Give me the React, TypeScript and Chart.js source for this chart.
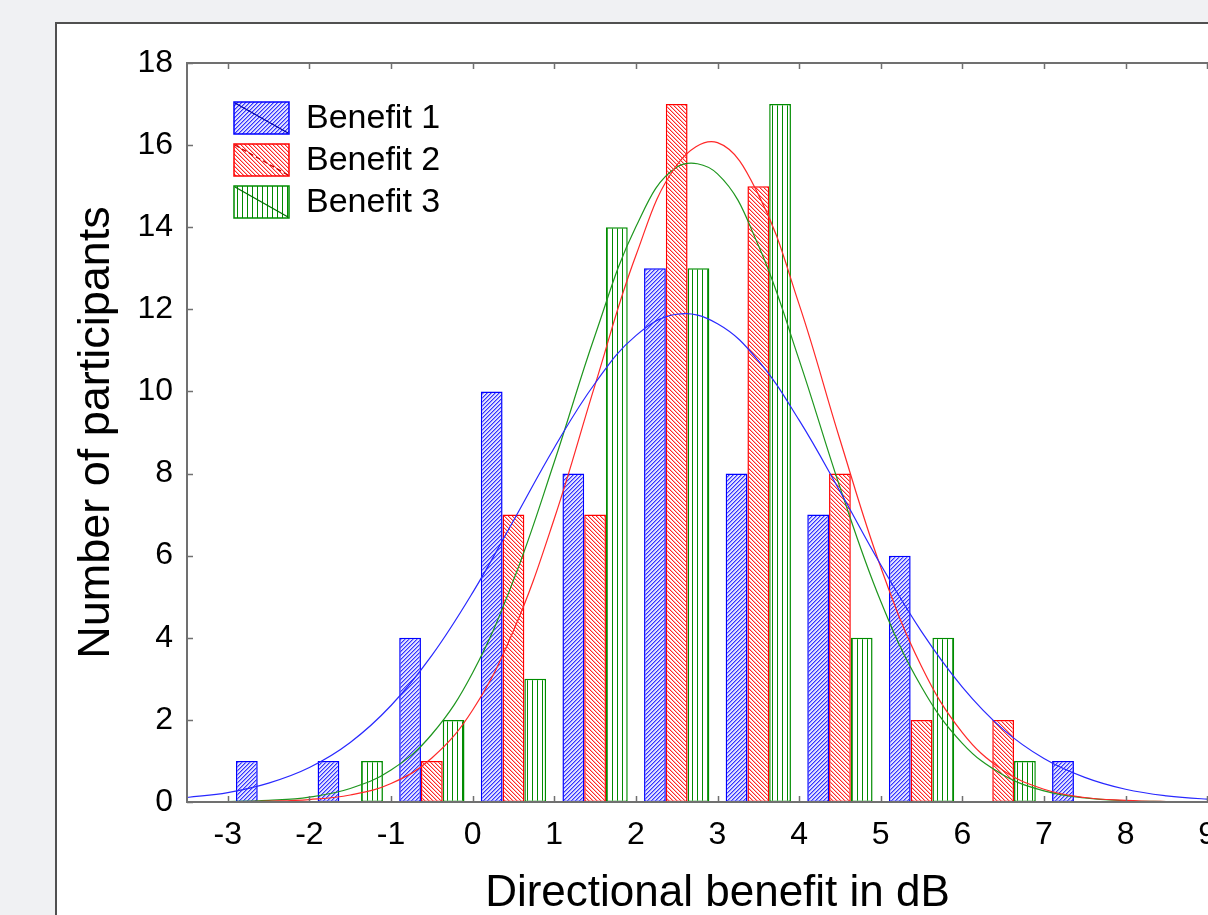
import React, { useEffect, useRef } from "react";
import { Chart, registerables } from "chart.js";

Chart.register(...registerables);

// ---------- data ----------
const binCenters = [-2.5, -1.5, -0.5, 0.5, 1.5, 2.5, 3.5, 4.5, 5.5, 6.5, 7.5];
const benefit1 = [1, 1, 4, 10, 8, 13, 8, 7, 6, 0, 1];
const benefit2 = [0, 0, 1, 7, 7, 17, 15, 8, 2, 2, 0];
const benefit3 = [0, 1, 2, 3, 14, 13, 17, 4, 4, 1, 0];

const xTickValues = [-3, -2, -1, 0, 1, 2, 3, 4, 5, 6, 7, 8, 9];

const curveX = [
  -3.5, -3, -2.5, -2, -1.5, -1, -0.5, 0, 0.5, 1, 1.5, 2, 2.5, 3, 3.5, 4, 4.5, 5,
  5.5, 6, 6.5, 7, 7.5, 8, 8.5, 9, 9.5,
];
const fit1 = [
  0.11, 0.23, 0.46, 0.84, 1.45, 2.35, 3.57, 5.1, 6.85, 8.63, 10.2, 11.36, 11.88,
  11.65, 10.75, 9.3, 7.57, 5.78, 4.15, 2.8, 1.77, 1.06, 0.6, 0.31, 0.15, 0.07,
  0.03,
];
const fit2 = [
  0, 0.005, 0.02, 0.06, 0.17, 0.45, 1.07, 2.24, 4.17, 6.9, 10.16, 13.31, 15.51,
  16.06, 14.8, 12.12, 8.83, 5.72, 3.3, 1.69, 0.77, 0.31, 0.11, 0.04, 0.01, 0, 0,
];
const fit3 = [
  0, 0.01, 0.04, 0.12, 0.33, 0.78, 1.65, 3.15, 5.4, 8.28, 11.37, 14.01, 15.46,
  15.3, 13.56, 10.77, 7.67, 4.89, 2.8, 1.43, 0.66, 0.27, 0.1, 0.03, 0.01, 0, 0,
];

const seriesNames = ["Benefit 1", "Benefit 2", "Benefit 3"];
const xAxisTitle = "Directional benefit in dB";
const yAxisTitle = "Number of participants";

const FONT = "'Liberation Sans', Arial, sans-serif";

const BLUE = "rgb(0,0,255)";
const RED = "rgb(255,0,0)";
const GREEN = "rgb(0,140,0)";

function makePattern(
  kind: "up" | "down" | "vert",
  color: string,
  soft: string,
  bg: string
): CanvasPattern {
  const size = kind === "vert" ? 5 : 4;
  const c = document.createElement("canvas");
  c.width = size;
  c.height = size;
  const g = c.getContext("2d")!;
  g.fillStyle = bg;
  g.fillRect(0, 0, size, size);
  if (kind === "vert") {
    g.fillStyle = color;
    g.fillRect(2, 0, 1, size);
  } else {
    for (let i = 0; i < size; i++) {
      const y = kind === "up" ? size - 1 - i : i;
      g.fillStyle = color;
      g.fillRect(i, y, 1, 1);
      g.fillStyle = soft;
      g.fillRect((i + 1) % size, y, 1, 1);
    }
  }
  return g.createPattern(c, "repeat")!;
}

export default function App() {
  const ref = useRef<HTMLCanvasElement>(null);

  useEffect(() => {
    const canvas = ref.current!;
    const p1 = makePattern("up", "rgb(50,50,255)", "rgb(150,150,255)", "rgb(225,225,255)");
    const p2 = makePattern("down", "rgb(255,40,40)", "rgb(255,175,175)", "#ffffff");
    const p3 = makePattern("vert", GREEN, GREEN, "#ffffff");
    const patterns = [p1, p2, p3];
    const colors = [BLUE, RED, GREEN];
    const diagColors = ["rgb(0,0,170)", "rgb(200,0,0)", "rgb(0,110,0)"];

    const framePlugin = {
      id: "frameAndLegend",
      afterDatasetsDraw(chart: any) {
        const { ctx, chartArea: a, scales } = chart;
        ctx.save();
        ctx.strokeStyle = "#707070";
        ctx.lineWidth = 2;
        ctx.strokeRect(a.left, a.top, a.right - a.left, a.bottom - a.top);
        ctx.lineWidth = 1.5;
        ctx.beginPath();
        scales.x.ticks.forEach((t: any) => {
          const px = Math.round(scales.x.getPixelForValue(t.value)) + 0.5;
          ctx.moveTo(px, a.bottom);
          ctx.lineTo(px, a.bottom - 6);
          ctx.moveTo(px, a.top);
          ctx.lineTo(px, a.top + 6);
        });
        scales.y.ticks.forEach((t: any) => {
          const py = Math.round(scales.y.getPixelForValue(t.value)) + 0.5;
          ctx.moveTo(a.left, py);
          ctx.lineTo(a.left + 6, py);
          ctx.moveTo(a.right, py);
          ctx.lineTo(a.right - 6, py);
        });
        ctx.stroke();

        // legend
        const bx = a.left + 47;
        const by0 = a.top + 39;
        const bw = 55;
        const bh = 32;
        const pitch = 42;
        for (let i = 0; i < seriesNames.length; i++) {
          const by = by0 + i * pitch;
          ctx.fillStyle = patterns[i];
          ctx.fillRect(bx, by, bw, bh);
          ctx.strokeStyle = colors[i];
          ctx.lineWidth = 1.5;
          ctx.setLineDash([]);
          ctx.strokeRect(bx, by, bw, bh);
          ctx.strokeStyle = diagColors[i];
          ctx.lineWidth = 1.3;
          ctx.setLineDash(i === 1 ? [5, 3] : []);
          ctx.beginPath();
          ctx.moveTo(bx + 1, by + 1);
          ctx.lineTo(bx + bw - 1, by + bh - 1);
          ctx.stroke();
          ctx.setLineDash([]);
          ctx.fillStyle = "#000";
          ctx.font = `34px ${FONT}`;
          ctx.textBaseline = "middle";
          ctx.textAlign = "left";
          ctx.fillText(seriesNames[i], bx + bw + 17, by + bh / 2 + 1);
        }
        ctx.restore();
      },
    };

    const barSets = [benefit1, benefit2, benefit3].map((vals, i) => ({
      type: "bar" as const,
      label: seriesNames[i],
      data: binCenters.map((x, k) => ({ x, y: vals[k] })),
      backgroundColor: patterns[i],
      borderColor: colors[i],
      borderWidth: 1.5,
      borderSkipped: false,
      categoryPercentage: 0.8,
      barPercentage: 1.0,
      order: 2,
    }));
    const lineColors = ["rgb(40,40,255)", "rgb(255,40,40)", "rgb(30,150,30)"];
    const lineSets = [fit1, fit2, fit3].map((vals, i) => ({
      type: "line" as const,
      label: seriesNames[i] + " fit",
      data: curveX.map((x, k) => ({ x, y: vals[k] })),
      borderColor: lineColors[i],
      borderWidth: 1.2,
      pointRadius: 0,
      tension: 0.4,
      fill: false,
      order: 1,
    }));

    const chart = new Chart(canvas, {
      type: "bar",
      data: { datasets: [...barSets, ...lineSets] as any },
      options: {
        responsive: false,
        animation: false,
        devicePixelRatio: 1,
        layout: { padding: { top: 63, right: 52, left: 0, bottom: 0 } },
        plugins: { legend: { display: false }, tooltip: { enabled: false } },
        scales: {
          x: {
            type: "linear",
            min: -3.5,
            max: 9.5,
            offset: false,
            grid: { display: false, drawTicks: false },
            border: { display: false },
            ticks: {
              autoSkip: false,
              maxRotation: 0,
              padding: 14,
              color: "#000",
              font: { family: FONT, size: 32 },
            },
            afterBuildTicks: (s: any) => {
              s.ticks = xTickValues.map((v) => ({ value: v }));
            },
            afterFit: (s: any) => {
              s.height = 138;
            },
            title: {
              display: true,
              text: xAxisTitle,
              color: "#000",
              font: { family: FONT, size: 44, lineHeight: 1.2 },
              padding: { top: 0, bottom: 19.5 },
            },
          },
          y: {
            type: "linear",
            min: 0,
            max: 18,
            grid: { display: false, drawTicks: false },
            border: { display: false },
            ticks: {
              stepSize: 2,
              padding: 14,
              color: "#000",
              font: { family: FONT, size: 32 },
            },
            afterFit: (s: any) => {
              s.width = 187;
            },
            title: {
              display: true,
              text: yAxisTitle,
              color: "#000",
              font: { family: FONT, size: 45, lineHeight: 1.2 },
              padding: { top: 69.5, bottom: 0 },
            },
          },
        },
      },
      plugins: [framePlugin],
    } as any);
    return () => chart.destroy();
  }, []);

  return (
    <div
      style={{
        position: "fixed",
        left: 0,
        top: 0,
        width: 1208,
        height: 915,
        overflow: "hidden",
        background: "#f0f1f3",
      }}
    >
      <div
        style={{
          position: "absolute",
          left: 55,
          top: 22,
          width: 1300,
          height: 1000,
          background: "#ffffff",
          border: "2px solid #505050",
          boxSizing: "border-box",
        }}
      />
      <canvas
        ref={ref}
        width={1300}
        height={940}
        style={{ position: "absolute", left: 0, top: 0, width: 1300, height: 940 }}
      />
    </div>
  );
}
